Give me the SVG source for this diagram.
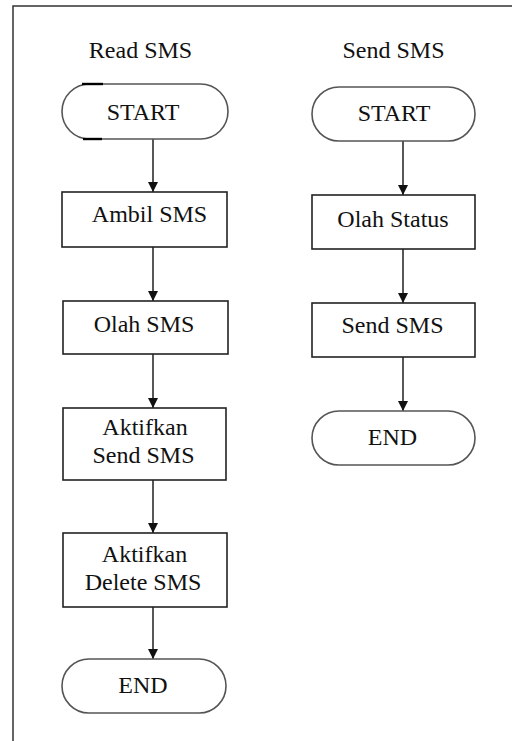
<svg xmlns="http://www.w3.org/2000/svg" width="512" height="741" viewBox="0 0 512 741">
<style>
.t{font-family:'Liberation Serif','Times New Roman',serif;font-size:24px;fill:#111;text-anchor:middle}
.box{fill:#fff;stroke:#222;stroke-width:1.6}
.term{fill:#fff;stroke:#555;stroke-width:1.6}
.conn line{stroke:#111;stroke-width:1.4}
.frame{stroke:#333;stroke-width:1.5;fill:none}
</style>
<defs>
<marker id="ah" viewBox="0 0 10 10" refX="10" refY="5" markerWidth="10" markerHeight="10" markerUnits="userSpaceOnUse" orient="auto">
<path d="M0,0 L10,5 L0,10 Z" fill="#111"/>
</marker>
</defs>
<rect width="512" height="741" fill="#fff"/>
<path class="frame" d="M13,741 L13,6 L512,6"/>
<g font-family="'Liberation Serif', serif">
<text class="t" x="140.5" y="58">Read SMS</text>
<text class="t" x="393.5" y="58">Send SMS</text>
</g>
<g class="conn">
<line x1="153" y1="139" x2="153" y2="192" marker-end="url(#ah)"/>
<line x1="153" y1="247" x2="153" y2="301" marker-end="url(#ah)"/>
<line x1="153" y1="354" x2="153" y2="408" marker-end="url(#ah)"/>
<line x1="153" y1="480" x2="153" y2="533" marker-end="url(#ah)"/>
<line x1="153" y1="607" x2="153" y2="659" marker-end="url(#ah)"/>
<line x1="403" y1="141" x2="403" y2="195" marker-end="url(#ah)"/>
<line x1="403" y1="249" x2="403" y2="303" marker-end="url(#ah)"/>
<line x1="403" y1="357" x2="403" y2="411" marker-end="url(#ah)"/>
</g>
<g id="read-start" font-family="'Liberation Serif', serif">
<rect class="term" x="62" y="84" width="166" height="55" rx="27.5"/>
<line x1="82" y1="84" x2="103" y2="84" stroke="#000" stroke-width="2.4"/>
<line x1="83" y1="139" x2="102" y2="139" stroke="#000" stroke-width="2.4"/>
<text class="t" x="143" y="120">START</text>
</g>
<g id="ambil-sms" font-family="'Liberation Serif', serif">
<rect class="box" x="62" y="192" width="165" height="55"/>
<text class="t" x="149.5" y="222">Ambil SMS</text>
</g>
<g id="olah-sms" font-family="'Liberation Serif', serif">
<rect class="box" x="63" y="301" width="165" height="53"/>
<text class="t" x="144" y="332">Olah SMS</text>
</g>
<g id="aktifkan-send" font-family="'Liberation Serif', serif">
<rect class="box" x="63" y="408" width="163" height="72"/>
<text class="t" x="145" y="435">Aktifkan</text>
<text class="t" x="143.5" y="463">Send SMS</text>
</g>
<g id="aktifkan-delete" font-family="'Liberation Serif', serif">
<rect class="box" x="63" y="533" width="164" height="74"/>
<text class="t" x="144.5" y="562">Aktifkan</text>
<text class="t" x="143" y="590">Delete SMS</text>
</g>
<g id="read-end" font-family="'Liberation Serif', serif">
<rect class="term" x="62" y="659" width="164" height="54" rx="27"/>
<text class="t" x="143" y="693">END</text>
</g>
<g id="send-start" font-family="'Liberation Serif', serif">
<rect class="term" x="312" y="87" width="163" height="54" rx="27"/>
<text class="t" x="394" y="121">START</text>
</g>
<g id="olah-status" font-family="'Liberation Serif', serif">
<rect class="box" x="312" y="195" width="163" height="54"/>
<text class="t" x="393" y="227">Olah Status</text>
</g>
<g id="send-sms" font-family="'Liberation Serif', serif">
<rect class="box" x="312" y="303" width="163" height="54"/>
<text class="t" x="392.5" y="333">Send SMS</text>
</g>
<g id="send-end" font-family="'Liberation Serif', serif">
<rect class="term" x="312" y="411" width="163" height="54" rx="27"/>
<text class="t" x="392.5" y="445">END</text>
</g>
</svg>
